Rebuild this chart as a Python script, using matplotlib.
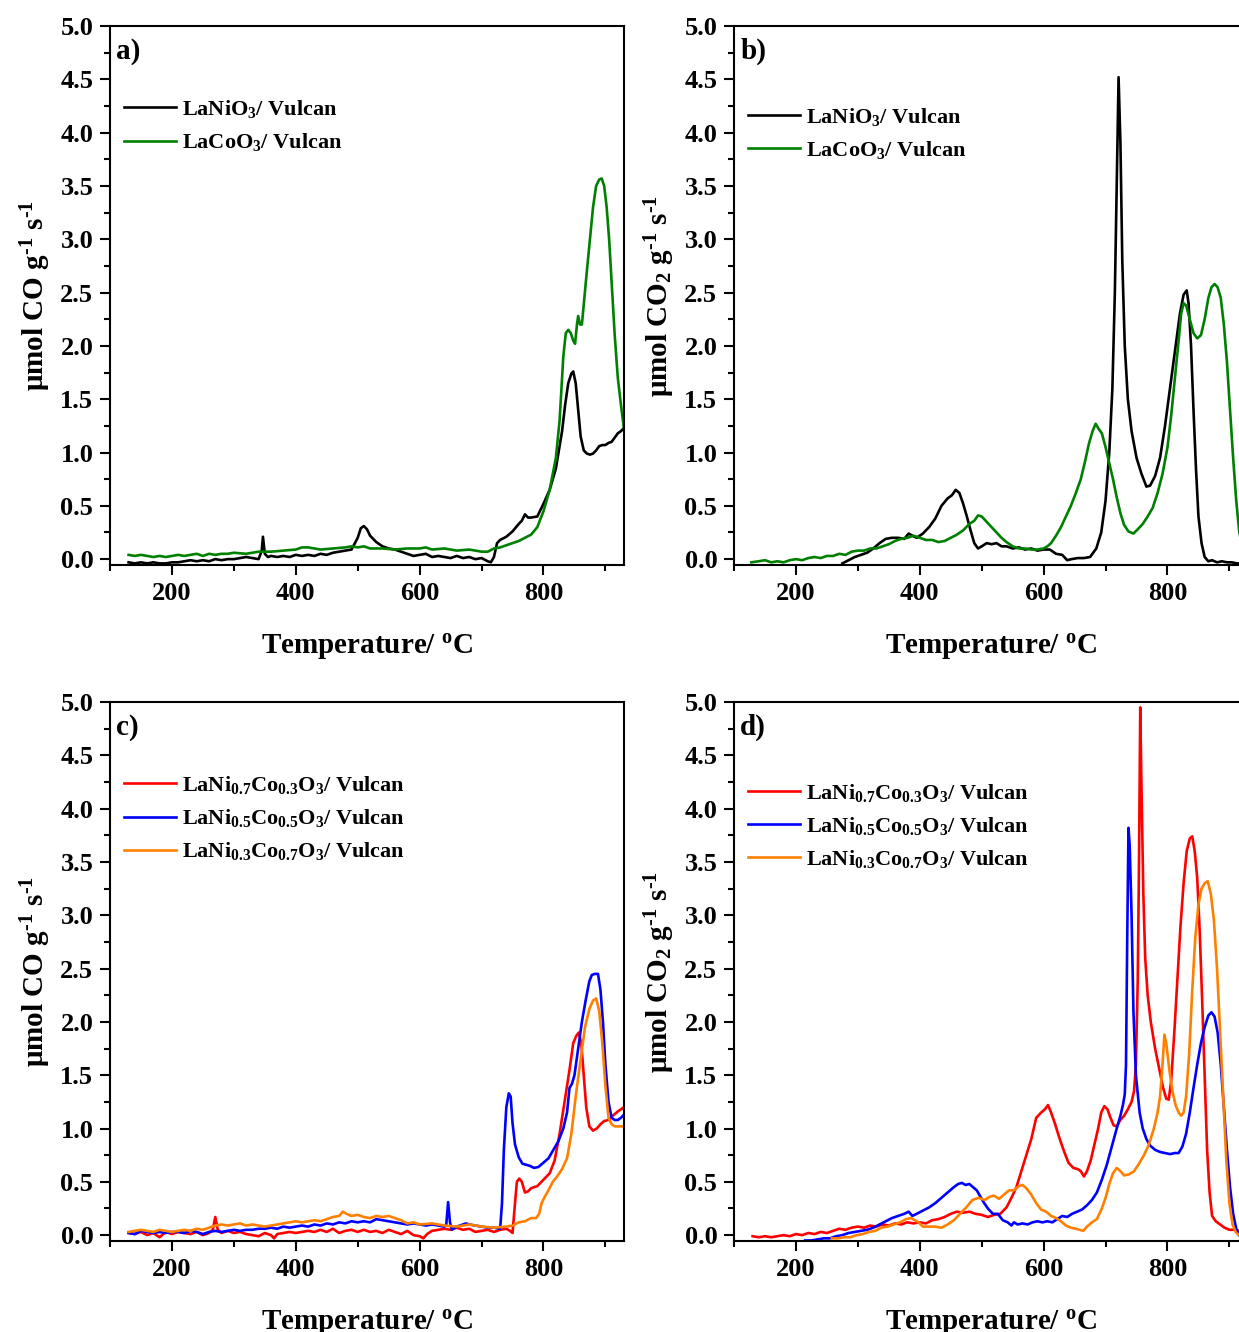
import matplotlib
matplotlib.use("Agg")
import matplotlib.pyplot as plt
from matplotlib.ticker import MultipleLocator, FormatStrFormatter

plt.rcParams['font.family'] = ['Liberation Serif', 'DejaVu Serif']
plt.rcParams['font.weight'] = 'bold'
plt.rcParams['mathtext.fontset'] = 'custom'
plt.rcParams['mathtext.rm'] = 'Liberation Serif:bold'
plt.rcParams['mathtext.it'] = 'Liberation Serif:bold'
plt.rcParams['mathtext.bf'] = 'Liberation Serif:bold'
plt.rcParams['mathtext.default'] = 'rm'

# ---------------- data: panel a (CO, LaNiO3 / LaCoO3) ----------------
a_ni_temp = [130,140,150,160,170,180,190,200,210,220,230,240,250,260,270,280,290,300,310,320,
             330,340,345,347,350,355,360,370,380,390,400,410,420,430,440,450,460,470,480,490,
             500,505,510,515,520,530,540,550,560,570,580,590,600,610,620,630,640,650,660,670,
             680,690,700,710,715,720,725,730,740,750,760,765,770,775,780,790,800,810,820,830,
             835,840,845,848,852,856,860,865,870,875,880,885,890,895,900,905,910,915,920,925,930]
a_ni_rate = [-0.03,-0.04,-0.03,-0.04,-0.03,-0.04,-0.04,-0.03,-0.03,-0.02,-0.01,-0.02,-0.01,-0.02,0.0,-0.01,0.0,0.0,0.01,0.02,
             0.01,0.0,0.08,0.21,0.05,0.02,0.03,0.02,0.03,0.02,0.04,0.03,0.04,0.03,0.05,0.04,0.06,0.07,0.08,0.09,
             0.2,0.29,0.31,0.28,0.22,0.16,0.12,0.1,0.09,0.07,0.05,0.03,0.04,0.05,0.02,0.03,0.02,0.01,0.03,0.01,
             0.02,0.0,0.01,-0.02,-0.03,0.02,0.15,0.18,0.21,0.26,0.33,0.36,0.42,0.39,0.39,0.4,0.52,0.65,0.85,1.2,
             1.45,1.65,1.74,1.76,1.65,1.4,1.15,1.02,0.99,0.98,0.99,1.02,1.06,1.07,1.07,1.09,1.1,1.14,1.18,1.2,1.23]

a_co_temp = [130,140,150,160,170,180,190,200,210,220,230,240,250,260,270,280,290,300,
             320,340,360,380,400,410,420,440,460,480,490,500,510,520,540,560,580,600,610,620,
             640,660,680,700,710,720,730,740,750,760,770,780,790,800,810,820,
             826,832,836,840,844,848,851,854,856,859,862,866,870,875,880,885,890,894,898,902,906,910,915,920,925,930]
a_co_rate = [0.04,0.03,0.04,0.03,0.02,0.03,0.02,0.03,0.04,0.03,0.04,0.05,0.03,0.05,0.04,0.05,0.05,0.06,
             0.05,0.07,0.07,0.08,0.09,0.11,0.11,0.09,0.1,0.11,0.12,0.11,0.12,0.1,0.1,0.09,0.1,0.1,0.11,0.09,
             0.1,0.08,0.09,0.07,0.07,0.1,0.11,0.13,0.15,0.17,0.2,0.23,0.3,0.45,0.65,0.95,
             1.3,1.9,2.12,2.15,2.12,2.05,2.02,2.2,2.28,2.2,2.2,2.45,2.7,3.0,3.3,3.5,3.56,3.57,3.5,3.3,3.0,2.6,2.1,1.7,1.45,1.22]

# ---------------- data: panel b (CO2, LaNiO3 / LaCoO3) ----------------
b_ni_temp = [275,285,295,305,315,325,335,345,355,365,375,382,388,395,405,415,425,435,445,452,
             458,464,470,476,482,488,494,500,508,516,524,532,540,550,560,570,580,590,600,610,
             620,630,638,645,655,665,675,685,693,700,706,711,715,718,721,724,727,731,736,742,
             750,758,766,772,780,788,796,804,812,820,826,831,834,838,842,846,850,855,860,866,
             872,880,888,896,904,912,920,930]
b_ni_rate = [-0.04,-0.01,0.02,0.04,0.06,0.1,0.15,0.19,0.2,0.2,0.19,0.24,0.22,0.2,0.24,0.3,0.38,0.5,0.57,0.6,
             0.65,0.62,0.52,0.4,0.27,0.15,0.1,0.12,0.15,0.14,0.15,0.12,0.12,0.1,0.11,0.09,0.1,0.08,0.09,0.09,
             0.05,0.04,-0.01,0.0,0.01,0.01,0.02,0.1,0.25,0.55,1.0,1.6,2.5,3.5,4.52,3.9,2.8,2.0,1.5,1.2,
             0.95,0.8,0.68,0.69,0.78,0.95,1.25,1.6,1.95,2.3,2.48,2.52,2.4,2.0,1.4,0.85,0.4,0.15,0.02,-0.02,
             -0.01,-0.03,-0.02,-0.03,-0.03,-0.04,-0.04,-0.04]

b_co_temp = [128,140,150,160,170,180,190,200,210,220,230,240,250,260,270,280,290,300,310,320,
             330,340,350,360,370,380,390,400,410,420,430,440,450,460,470,480,
             488,494,500,508,516,524,532,540,550,560,570,580,590,600,
             606,612,620,628,636,644,652,660,667,673,679,684,689,694,700,
             706,712,718,724,730,737,745,752,760,768,776,784,792,800,
             806,812,818,822,826,830,836,842,848,854,860,
             866,871,876,881,886,891,896,901,906,911,916,921,926,930]
b_co_rate = [-0.03,-0.02,-0.01,-0.03,-0.02,-0.03,-0.01,0.0,-0.01,0.01,0.02,0.01,0.03,0.03,0.05,0.04,0.07,0.08,0.08,0.1,
             0.1,0.12,0.14,0.17,0.19,0.2,0.22,0.2,0.18,0.18,0.16,0.17,0.2,0.23,0.27,0.33,
             0.36,0.41,0.4,0.35,0.3,0.25,0.2,0.16,0.12,0.1,0.1,0.09,0.09,0.1,
             0.12,0.15,0.22,0.3,0.4,0.5,0.62,0.75,0.92,1.08,1.2,1.27,1.22,1.18,1.05,
             0.9,0.75,0.58,0.43,0.32,0.26,0.24,0.28,0.33,0.4,0.48,0.62,0.8,1.05,
             1.35,1.7,2.05,2.3,2.4,2.38,2.25,2.12,2.07,2.1,2.25,
             2.45,2.55,2.58,2.55,2.45,2.2,1.85,1.4,0.95,0.55,0.25,0.12,0.05,0.03]

# ---------------- data: panel c (CO, mixed perovskites) ----------------
c_73_temp = [130,140,150,160,170,180,190,200,210,220,230,240,250,260,266,270,274,
             280,290,300,310,320,330,340,350,360,365,
             370,380,390,400,410,420,430,440,450,460,470,480,490,500,510,520,530,540,550,560,570,580,590,600,
             606,612,620,630,640,650,660,670,680,690,700,710,720,730,740,
             746,750,754,757,761,765,770,775,780,
             790,800,810,818,826,834,842,848,853,857,861,865,869,874,880,886,892,898,905,912,920,930]
c_73_rate = [0.02,0.01,0.03,0.0,0.02,-0.02,0.03,0.01,0.03,0.02,0.01,0.03,0.0,0.02,0.05,0.17,0.05,
             0.02,0.04,0.02,0.03,0.01,0.0,-0.01,0.02,0.0,-0.03,
             0.01,0.02,0.03,0.02,0.03,0.04,0.03,0.05,0.03,0.06,0.02,0.04,0.05,0.03,0.05,0.03,0.04,0.02,0.05,0.03,0.01,0.04,0.0,-0.01,
             -0.03,0.01,0.04,0.05,0.06,0.05,0.07,0.05,0.06,0.03,0.04,0.05,0.03,0.05,0.06,
             0.04,0.02,0.3,0.5,0.53,0.5,0.4,0.41,0.44,
             0.46,0.52,0.58,0.7,0.95,1.25,1.55,1.8,1.87,1.9,1.8,1.5,1.2,1.02,0.98,1.0,1.04,1.07,1.08,1.12,1.16,1.2]

c_55_temp = [130,140,150,160,170,180,190,200,210,220,230,240,250,260,270,280,290,300,310,320,
             330,340,350,360,370,380,390,400,410,420,430,440,450,460,470,480,490,500,510,520,
             530,540,550,560,570,580,590,600,610,620,630,640,
             643,646,649,652,660,670,675,680,690,700,710,720,730,
             733,736,740,744,747,750,754,760,766,772,778,785,792,800,
             808,816,824,832,838,842,846,850,856,862,868,874,878,883,888,892,896,900,905,910,915,920,925,930]
c_55_rate = [0.02,0.01,0.04,0.03,0.02,0.03,0.02,0.03,0.03,0.02,0.04,0.03,0.01,0.03,0.04,0.03,0.04,0.05,0.04,0.05,
             0.05,0.06,0.06,0.07,0.06,0.08,0.07,0.08,0.09,0.08,0.1,0.09,0.11,0.1,0.12,0.11,0.13,0.12,0.13,0.12,
             0.15,0.14,0.13,0.12,0.11,0.1,0.11,0.1,0.09,0.1,0.09,0.08,
             0.1,0.31,0.12,0.05,0.08,0.1,0.11,0.1,0.09,0.08,0.07,0.07,0.06,
             0.3,0.8,1.2,1.33,1.3,1.05,0.85,0.73,0.67,0.66,0.65,0.63,0.64,0.68,
             0.72,0.8,0.88,1.0,1.15,1.38,1.42,1.5,1.75,2.0,2.2,2.38,2.44,2.45,2.45,2.3,2.0,1.6,1.25,1.1,1.08,1.08,1.1,1.13]

c_37_temp = [130,140,150,160,170,180,190,200,210,220,230,240,250,260,270,280,290,300,310,320,
             330,340,350,360,370,380,390,400,410,420,430,440,450,460,470,476,482,
             490,500,510,520,530,540,550,560,570,580,590,600,
             620,640,660,680,700,720,740,750,760,770,780,
             788,793,797,802,808,815,822,830,838,845,852,860,867,874,880,885,890,895,900,905,910,915,920,930]
c_37_rate = [0.03,0.04,0.05,0.04,0.03,0.05,0.04,0.03,0.04,0.05,0.04,0.06,0.05,0.07,0.09,0.1,0.09,0.1,0.11,0.09,
             0.1,0.09,0.08,0.09,0.1,0.11,0.12,0.13,0.12,0.13,0.14,0.13,0.15,0.17,0.18,0.22,0.2,
             0.18,0.19,0.17,0.16,0.18,0.17,0.18,0.16,0.14,0.11,0.12,0.1,
             0.11,0.09,0.08,0.1,0.08,0.07,0.08,0.09,0.12,0.13,0.16,
             0.16,0.2,0.3,0.36,0.42,0.5,0.55,0.62,0.72,0.95,1.3,1.65,1.95,2.12,2.2,2.22,2.1,1.8,1.4,1.1,1.04,1.02,1.02,1.02]

# ---------------- data: panel d (CO2, mixed perovskites) ----------------
d_73_temp = [130,140,150,160,170,180,190,200,210,220,230,240,250,260,270,280,290,300,310,320,
             330,340,350,360,370,380,390,400,410,420,430,440,450,460,470,480,490,500,510,520,530,540,
             548,556,564,572,580,588,596,
             602,607,612,618,625,632,640,648,655,660,
             665,670,676,682,688,693,698,703,708,713,
             718,724,730,736,742,746,749,752,754,756,
             758,761,764,768,773,780,787,793,798,802,
             806,811,816,821,826,831,836,840,844,848,
             852,856,860,864,868,872,878,885,892,900,910,920]
d_73_rate = [-0.01,-0.02,-0.01,-0.02,-0.01,0.0,-0.01,0.01,0.0,0.02,0.01,0.03,0.02,0.04,0.06,0.05,0.07,0.08,0.07,0.09,
             0.08,0.1,0.09,0.11,0.1,0.12,0.11,0.12,0.11,0.14,0.15,0.17,0.2,0.22,0.21,0.22,0.2,0.19,0.17,0.19,0.2,0.26,
             0.35,0.45,0.6,0.75,0.9,1.1,1.15,
             1.18,1.22,1.15,1.05,0.92,0.8,0.68,0.63,0.62,0.6,
             0.55,0.6,0.7,0.85,1.0,1.15,1.21,1.18,1.1,1.03,
             1.02,1.08,1.12,1.18,1.25,1.35,1.6,2.4,3.5,4.95,
             4.2,3.2,2.6,2.25,2.0,1.75,1.55,1.38,1.28,1.27,
             1.45,1.9,2.4,2.9,3.3,3.6,3.72,3.74,3.6,3.35,
             2.85,2.2,1.5,0.8,0.4,0.18,0.13,0.1,0.07,0.05,0.05,0.03]

d_55_temp = [215,225,235,245,255,265,275,285,295,305,315,325,335,345,355,365,375,382,388,395,
             405,415,425,435,445,455,462,468,474,480,486,492,498,504,510,
             518,526,534,542,548,552,558,566,574,582,590,598,606,614,622,630,638,
             646,654,662,670,678,686,694,702,710,718,
             724,728,731,733,735,737,739,742,745,749,
             755,760,766,772,780,788,796,804,812,818,
             824,830,836,842,848,854,860,866,871,876,
             881,886,891,896,901,906,911,916,920]
d_55_rate = [-0.05,-0.05,-0.04,-0.03,-0.03,-0.01,0.0,0.02,0.03,0.04,0.05,0.07,0.1,0.13,0.16,0.18,0.2,0.22,0.18,0.2,
             0.23,0.26,0.3,0.35,0.4,0.45,0.48,0.49,0.47,0.48,0.45,0.42,0.36,0.3,0.25,
             0.2,0.2,0.14,0.12,0.09,0.12,0.1,0.11,0.1,0.12,0.13,0.12,0.13,0.12,0.15,0.18,0.17,
             0.2,0.22,0.24,0.28,0.33,0.4,0.52,0.66,0.83,1.0,
             1.12,1.22,1.32,1.6,2.8,3.82,3.65,3.0,2.1,1.5,
             1.15,1.0,0.9,0.84,0.8,0.78,0.77,0.76,0.77,0.77,
             0.83,0.95,1.15,1.38,1.6,1.8,1.95,2.06,2.09,2.05,
             1.9,1.6,1.2,0.8,0.45,0.2,0.06,0.0,-0.04]

d_37_temp = [258,268,278,288,298,308,318,328,338,348,358,368,378,386,392,398,
             405,415,425,435,445,455,465,475,485,495,505,
             513,520,528,536,544,552,560,566,572,580,
             588,596,604,612,620,628,636,644,652,658,
             664,670,678,686,694,700,706,712,718,724,
             730,738,746,754,762,770,778,784,788,792,
             795,798,803,808,813,818,822,826,830,835,
             840,845,850,855,860,865,870,875,880,885,
             890,895,900,905,910,915,920]
d_37_rate = [-0.03,-0.03,-0.02,-0.02,0.0,0.01,0.03,0.04,0.07,0.08,0.1,0.12,0.15,0.16,0.14,0.12,
             0.08,0.08,0.08,0.07,0.1,0.14,0.2,0.26,0.33,0.35,0.33,
             0.36,0.37,0.34,0.38,0.42,0.42,0.46,0.47,0.44,0.38,
             0.3,0.24,0.22,0.18,0.16,0.13,0.09,0.07,0.06,0.05,
             0.04,0.08,0.12,0.15,0.25,0.35,0.48,0.58,0.63,0.6,
             0.56,0.57,0.6,0.67,0.75,0.85,1.0,1.15,1.3,1.6,
             1.88,1.8,1.55,1.35,1.22,1.15,1.12,1.15,1.3,1.7,
             2.3,2.8,3.1,3.25,3.3,3.32,3.2,2.95,2.5,1.9,
             1.3,0.7,0.3,0.1,0.03,0.0,0.0]

x_ticks = [200, 400, 600, 800]
y_label_co = r"μmol CO g$^{\text{-}1}$ s$^{\text{-}1}$"
y_label_co2 = r"μmol CO$_2$ g$^{\text{-}1}$ s$^{\text{-}1}$"
x_label = r"Temperature/ $^{\mathrm{o}}$C"

lab_ni = r"LaNiO$_3$/ Vulcan"
lab_co = r"LaCoO$_3$/ Vulcan"
lab_73 = r"LaNi$_{0.7}$Co$_{0.3}$O$_3$/ Vulcan"
lab_55 = r"LaNi$_{0.5}$Co$_{0.5}$O$_3$/ Vulcan"
lab_37 = r"LaNi$_{0.3}$Co$_{0.7}$O$_3$/ Vulcan"

GREEN = '#008000'
RED = '#ff0000'
BLUE = '#0000ff'
ORANGE = '#ff8000'

W, H = 1239, 1332
fig = plt.figure(figsize=(W / 100, H / 100), dpi=100)

def make_ax(left_px, top_px):
    w_px, h_px = 514, 539
    return fig.add_axes([left_px / W, (H - top_px - h_px) / H, w_px / W, h_px / H])

axes = {
    'a': make_ax(110, 26),
    'b': make_ax(734, 26),
    'c': make_ax(110, 702),
    'd': make_ax(734, 702),
}

series = {
    'a': [(a_ni_temp, a_ni_rate, 'black', lab_ni), (a_co_temp, a_co_rate, GREEN, lab_co)],
    'b': [(b_ni_temp, b_ni_rate, 'black', lab_ni), (b_co_temp, b_co_rate, GREEN, lab_co)],
    'c': [(c_73_temp, c_73_rate, RED, lab_73), (c_55_temp, c_55_rate, BLUE, lab_55),
          (c_37_temp, c_37_rate, ORANGE, lab_37)],
    'd': [(d_73_temp, d_73_rate, RED, lab_73), (d_55_temp, d_55_rate, BLUE, lab_55),
          (d_37_temp, d_37_rate, ORANGE, lab_37)],
}
ylabels = {'a': y_label_co, 'b': y_label_co2, 'c': y_label_co, 'd': y_label_co2}
legend_top = {'a': 0.866, 'b': 0.852, 'c': 0.866, 'd': 0.852}

for key, ax in axes.items():
    for t, r, col, lab in series[key]:
        ax.plot(t, r, color=col, lw=1.9, label=lab)
    ax.set_xlim(100, 930)
    ax.set_ylim(-0.055, 5.0)
    ax.set_xticks(x_ticks)
    ax.xaxis.set_minor_locator(MultipleLocator(100))
    ax.yaxis.set_major_locator(MultipleLocator(0.5))
    ax.yaxis.set_minor_locator(MultipleLocator(0.25))
    ax.yaxis.set_major_formatter(FormatStrFormatter('%.1f'))
    for s in ax.spines.values():
        s.set_linewidth(1.5)
    ax.tick_params(which='both', direction='out', top=False, right=False, width=1.5)
    ax.tick_params(which='major', length=7, labelsize=19, pad=5)
    ax.tick_params(which='minor', length=4)
    for lbl in ax.get_xticklabels() + ax.get_yticklabels():
        lbl.set_fontweight('bold')
    ax.set_xlabel(x_label, fontsize=21, fontweight='bold', labelpad=20)
    ax.set_ylabel(ylabels[key], fontsize=21, fontweight='bold', labelpad=5)
    ax.text(0.012, 0.978, key + ')', transform=ax.transAxes, fontsize=21,
            fontweight='bold', ha='left', va='top')
    ax.legend(loc='upper left', bbox_to_anchor=(0.028, legend_top[key]), frameon=False,
              fontsize=16, handlelength=2.3, handletextpad=0.28,
              labelspacing=0.5, borderpad=0, borderaxespad=0)

fig.savefig('out.png', dpi=100)
